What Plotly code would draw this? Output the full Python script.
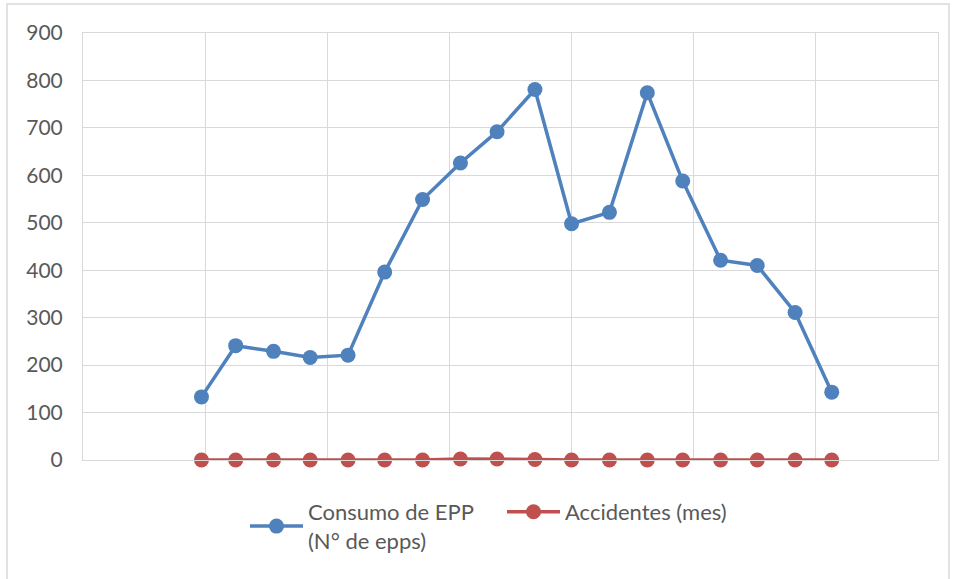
import pandas as pd
import plotly.graph_objects as go

# Monthly records, Feb 2019 - Jul 2020
months = ["2019-02-01", "2019-03-01", "2019-04-01", "2019-05-01", "2019-06-01",
          "2019-07-01", "2019-08-01", "2019-09-01", "2019-10-01", "2019-11-01",
          "2019-12-01", "2020-01-01", "2020-02-01", "2020-03-01", "2020-04-01",
          "2020-05-01", "2020-06-01", "2020-07-01"]
consumo_epp = [133, 241, 229, 216, 221, 396, 549, 626, 692, 781,
               498, 522, 774, 588, 421, 410, 311, 143]
accidentes = [0, 0, 0, 0, 0, 0, 0, 2, 2, 1, 0, 0, 0, 0, 0, 0, 0, 0]

name_epp = "Consumo de EPP<br>(N° de epps)"
name_acc = "Accidentes (mes)"
y_ticks = [0, 100, 200, 300, 400, 500, 600, 700, 800, 900]

# Spreadsheet-style date serials: axis spans serial 43400..44100, grid every 100 days
epoch = pd.Timestamp("1899-12-30")
x_start = epoch + pd.Timedelta(days=43400)
x_end = epoch + pd.Timedelta(days=44100)

BLUE = "#4F81BD"
RED = "#C0504D"
GRID = "#D9D9D9"
TEXT = "#595959"
FONT = "Lato"

fig = go.Figure()
fig.add_trace(go.Scatter(
    x=months, y=consumo_epp, name=name_epp, mode="lines+markers",
    line=dict(color=BLUE, width=3.5), marker=dict(color=BLUE, size=15),
    cliponaxis=False,
))
fig.add_trace(go.Scatter(
    x=months, y=accidentes, name=name_acc, mode="lines+markers",
    line=dict(color=RED, width=3.5), marker=dict(color=RED, size=15),
    cliponaxis=False,
))

L, R, T, B = 83, 18, 33, 119
W, H = 956, 579
pw, ph = W - L - R, H - T - B

def px_x(v):
    return (v - L) / pw

def px_y(v):
    return (H - B - v) / ph

fig.update_layout(
    width=W, height=H,
    margin=dict(l=L, r=R, t=T, b=B),
    paper_bgcolor="white", plot_bgcolor="white",
    font=dict(family=FONT, size=21, color=TEXT),
    showlegend=True,
    legend=dict(
        orientation="h", x=px_x(245), xanchor="left", y=px_y(491), yanchor="top",
        font=dict(family=FONT, size=22, color=TEXT),
        itemwidth=53, entrywidth=189, bgcolor="rgba(0,0,0,0)",
    ),
    xaxis=dict(
        type="date", range=[x_start, x_end], tick0=x_start, dtick=100 * 86400000,
        showticklabels=False, showgrid=True, gridcolor=GRID, gridwidth=1,
        showline=True, linecolor=GRID, mirror=True, zeroline=False, ticks="",
    ),
    yaxis=dict(
        range=[0, 900], tickvals=y_ticks, showgrid=True, gridcolor=GRID, gridwidth=1,
        showline=True, linecolor=GRID, mirror=True, zeroline=False, ticks="",
        ticklabelstandoff=15, tickfont=dict(family=FONT, size=21, color=TEXT),
    ),
    shapes=[dict(
        type="rect", xref="paper", yref="paper",
        x0=px_x(7), x1=px_x(949), y0=px_y(600), y1=px_y(4),
        line=dict(color=GRID, width=1.5), fillcolor="rgba(0,0,0,0)", layer="below",
    )],
)

fig.write_html("out.html")
